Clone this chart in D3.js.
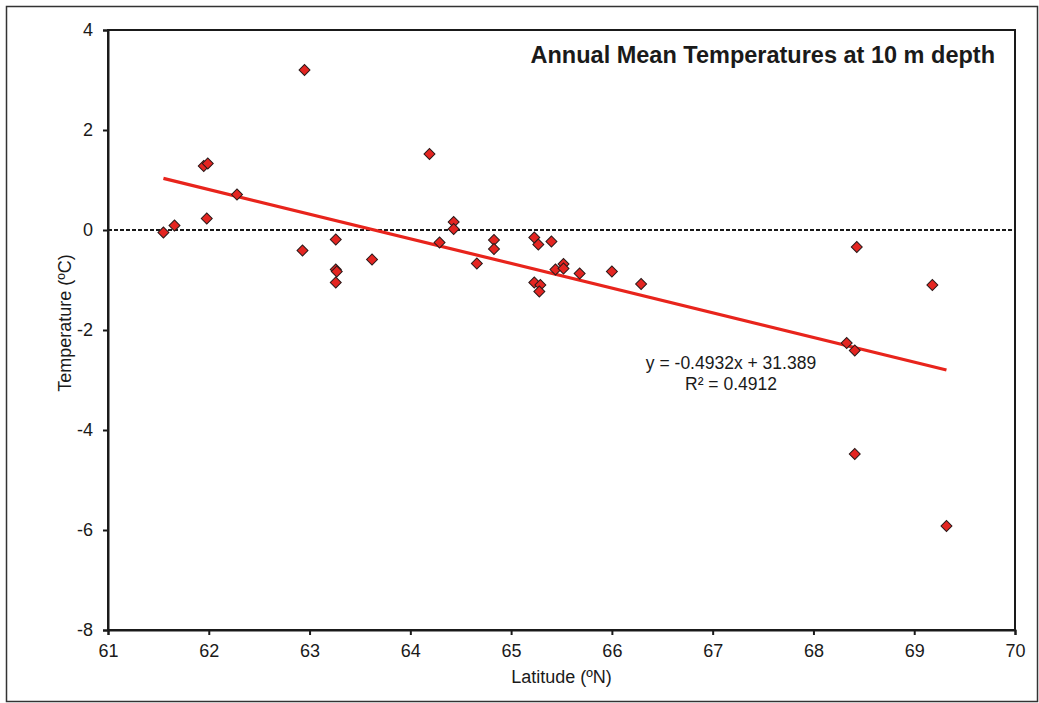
<!DOCTYPE html>
<html>
<head>
<meta charset="utf-8">
<script src="https://cdn.jsdelivr.net/npm/d3@7"></script>
<style>
  html, body { margin: 0; padding: 0; background: #fff; }
  svg { display: block; font-family: "Liberation Sans", Arial, sans-serif; }
</style>
</head>
<body>
<svg id="chart" width="1039" height="703"></svg>
<script>
// ---- Data ----
const latitude = [61.55, 61.66, 61.95, 61.99, 61.98, 62.28, 62.95, 62.93, 63.26, 63.26,
  63.27, 63.26, 63.62, 64.19, 64.29, 64.43, 64.43, 64.66, 64.83, 64.83,
  65.23, 65.27, 65.40, 65.23, 65.29, 65.28, 65.44, 65.52, 65.52, 65.68,
  66.00, 66.29, 68.43, 69.18, 68.33, 68.41, 68.41, 69.32];
const temperature = [-0.05, 0.09, 1.28, 1.33, 0.23, 0.71, 3.20, -0.41, -0.19, -0.79,
  -0.83, -1.05, -0.59, 1.52, -0.25, 0.16, 0.02, -0.67, -0.20, -0.38,
  -0.15, -0.29, -0.23, -1.05, -1.10, -1.23, -0.79, -0.68, -0.77, -0.87,
  -0.83, -1.08, -0.34, -1.10, -2.26, -2.41, -4.48, -5.92];
const xTicks = [61, 62, 63, 64, 65, 66, 67, 68, 69, 70];
const yTicks = [-8, -6, -4, -2, 0, 2, 4];
const trendSlope = -0.4932;
const trendIntercept = 31.389;
const rSquared = 0.4912;
const titleText = "Annual Mean Temperatures at 10 m depth";
const xLabel = "Latitude (\u00BAN)";
const yLabel = "Temperature (\u00BAC)";

// ---- Layout ----
const svg = d3.select("#chart");
const L = 108, R = 1015, T = 30, B = 630;
const x = d3.scaleLinear().domain([61, 70]).range([L, R]);
const y = d3.scaleLinear().domain([-8, 4]).range([B, T]);
const ink = "#1a1a1a";

// outer frame
svg.append("rect").attr("x", 6.5).attr("y", 6.5).attr("width", 1031).attr("height", 695)
  .attr("fill", "none").attr("stroke", "#333").attr("stroke-width", 1.5);

// plot box
svg.append("rect").attr("x", L).attr("y", T).attr("width", R - L).attr("height", B - T)
  .attr("fill", "none").attr("stroke", ink).attr("stroke-width", 2);

// axes
const xAxis = svg.append("g").attr("transform", `translate(0,${B})`)
  .call(d3.axisBottom(x).tickValues(xTicks).tickSize(5).tickPadding(9).tickFormat(d3.format("d")));
const yAxis = svg.append("g").attr("transform", `translate(${L},0)`)
  .call(d3.axisLeft(y).tickValues(yTicks).tickSize(5).tickPadding(10).tickFormat(d => d < 0 ? "-" + Math.abs(d) : d));
[xAxis, yAxis].forEach(g => {
  g.select(".domain").attr("stroke", ink).attr("stroke-width", 2);
  g.selectAll(".tick line").attr("stroke", ink).attr("stroke-width", 2);
  g.selectAll(".tick text").attr("fill", ink).style("font-size", "18px")
    .style("font-family", "'Liberation Sans', Arial, sans-serif");
});

// zero dashed line
svg.append("line").attr("x1", L).attr("x2", R).attr("y1", y(0)).attr("y2", y(0))
  .attr("stroke", ink).attr("stroke-width", 2).attr("stroke-dasharray", "4,2");

// trendline
const xmin = d3.min(latitude), xmax = d3.max(latitude);
svg.append("line")
  .attr("x1", x(xmin)).attr("y1", y(trendSlope * xmin + trendIntercept))
  .attr("x2", x(xmax)).attr("y2", y(trendSlope * xmax + trendIntercept))
  .attr("stroke", "#e8241c").attr("stroke-width", 3.2);

// points
const pts = latitude.map((lat, i) => ({lat, t: temperature[i]}));
svg.append("g").selectAll("path").data(pts).join("path")
  .attr("d", d3.symbol().type(d3.symbolSquare).size(60))
  .attr("transform", d => `translate(${x(d.lat)},${y(d.t)}) rotate(45)`)
  .attr("fill", "#e42521").attr("stroke", "#2a1a1a").attr("stroke-width", 1);

// title
svg.append("text").attr("x", 995).attr("y", 63).attr("text-anchor", "end")
  .attr("fill", ink).style("font-size", "23.5px").style("font-weight", "bold").text(titleText);

// equation
svg.append("text").attr("x", 731).attr("y", 369).attr("text-anchor", "middle")
  .attr("fill", ink).style("font-size", "17.5px")
  .text(`y = ${trendSlope}x + ${trendIntercept}`);
svg.append("text").attr("x", 731).attr("y", 390).attr("text-anchor", "middle")
  .attr("fill", ink).style("font-size", "17.5px")
  .text(`R\u00B2 = ${rSquared}`);

// axis titles
svg.append("text").attr("x", (L + R) / 2).attr("y", 683).attr("text-anchor", "middle")
  .attr("fill", ink).style("font-size", "18px").text(xLabel);
svg.append("text").attr("transform", `translate(71,323) rotate(-90)`).attr("text-anchor", "middle")
  .attr("fill", ink).style("font-size", "18px").text(yLabel);
</script>
</body>
</html>
